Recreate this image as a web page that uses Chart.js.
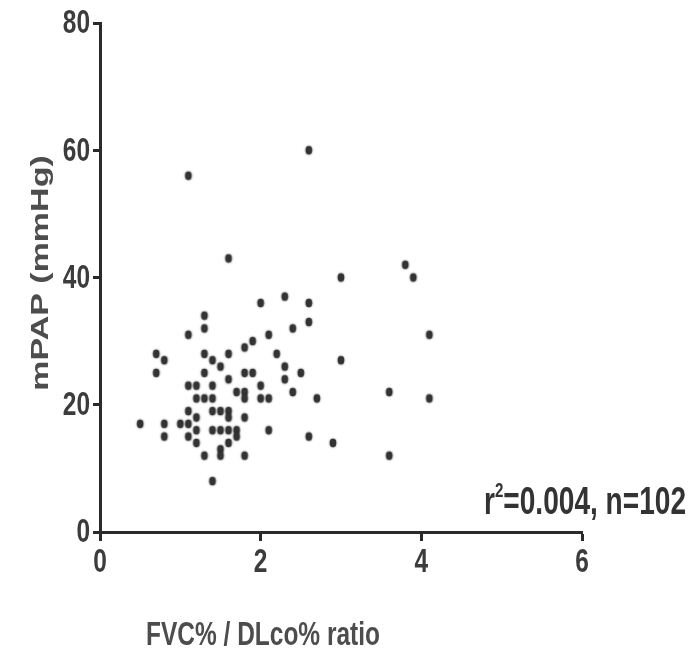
<!DOCTYPE html>
<html><head><meta charset="utf-8">
<script src="https://cdn.jsdelivr.net/npm/chart.js@4"></script>
<style>html,body{margin:0;padding:0;background:#fff}#wrap{width:697px;height:652px}</style>
</head><body><div id="wrap"><canvas id="c" width="697" height="652"></canvas></div>
<script>
// FVC%/DLco% ratio (x) and mPAP in mmHg (y)
const ratioX = [0.5,0.7,0.8,0.7,0.8,0.8,1.0,1.1,1.1,1.1,1.1,1.1,1.1,1.2,1.2,1.2,1.2,1.2,1.3,1.3,
  1.3,1.3,1.3,1.3,1.4,1.4,1.4,1.4,1.4,1.4,1.5,1.5,1.5,1.5,1.5,1.6,1.6,1.6,1.6,1.6,
  1.6,1.6,1.7,1.7,1.7,1.8,1.8,1.8,1.8,1.8,1.8,1.9,1.9,2.0,2.0,2.0,2.1,2.1,2.1,2.2,
  2.3,2.3,2.3,2.4,2.4,2.5,2.6,2.6,2.6,2.6,2.7,2.9,3.0,3.0,3.6,3.6,3.8,3.9,4.1,4.1];
const mpapY = [17,28,27,25,17,15,17,56,31,23,19,17,15,23,21,18,16,14,34,32,
  28,25,21,12,27,23,21,19,16,8,26,19,16,13,12,28,24,19,18,16,
  14,43,22,16,15,29,25,22,21,18,12,30,25,36,23,21,31,21,16,28,
  37,26,24,32,22,25,60,36,33,15,21,14,40,27,22,12,42,40,31,21];
const xTicks = [0,2,4,6];
const yTicks = [0,20,40,60,80];
const xTitle = 'FVC% / DLco% ratio';
const yTitle = 'mPAP (mmHg)';
const statBase = 'r', statSup = '2', statRest = '=0.004, n=102';

const FONT = "'Liberation Sans',Arial,sans-serif";
const AXC = '#2a2a2a';
const SQ = 0.72; // horizontal condensing of all lettering

const points = ratioX.map((x,i)=>({x, y: mpapY[i]}));

// soft, slightly tall dot marker
const dot = document.createElement('canvas');
dot.width = 14; dot.height = 16;
(function(){
  const g = dot.getContext('2d');
  g.fillStyle = '#333';
  g.shadowColor = 'rgba(40,40,40,0.7)';
  g.shadowBlur = 2;
  g.beginPath(); g.ellipse(7, 8, 3.3, 4.2, 0, 0, Math.PI*2); g.fill();
})();

function condText(ctx, txt, x, y, align){
  ctx.save();
  ctx.translate(x, y);
  ctx.scale(SQ, 1);
  ctx.textAlign = align;
  ctx.fillText(txt, 0, 0);
  ctx.restore();
}

const textPlugin = {
  id:'texts',
  afterDraw(chart){
    const ctx = chart.ctx;
    const xs = chart.scales.x, ys = chart.scales.y;
    ctx.save();
    // tick labels
    ctx.fillStyle = '#3c3c3c';
    ctx.font = "bold 34px " + FONT;
    ctx.textBaseline = 'middle';
    yTicks.forEach(v => condText(ctx, String(v), 90, ys.getPixelForValue(v) + 1, 'right'));
    ctx.textBaseline = 'top';
    xTicks.forEach(v => condText(ctx, String(v), xs.getPixelForValue(v), 546, 'center'));
    // x title
    ctx.fillStyle = '#4d4d4d';
    ctx.font = "bold 34px " + FONT;
    ctx.textBaseline = 'middle';
    condText(ctx, xTitle, 263, 636, 'center');
    // y title (rotated; condensing applies across the text height)
    ctx.save();
    ctx.translate(41, 273);
    ctx.rotate(-Math.PI/2);
    ctx.scale(1, SQ);
    ctx.textAlign = 'center';
    ctx.fillText(yTitle, 0, 0);
    ctx.restore();
    // stats annotation
    ctx.fillStyle = '#333';
    ctx.textBaseline = 'alphabetic';
    ctx.font = "bold 39px " + FONT;
    const wr = ctx.measureText(statBase).width * SQ;
    const wt = ctx.measureText(statRest).width * SQ;
    ctx.font = "bold 21px " + FONT;
    const ws = ctx.measureText(statSup).width * SQ;
    const x0 = 686 - (wr + ws + wt);
    const base = 514;
    ctx.font = "bold 39px " + FONT;
    condText(ctx, statBase, x0, base, 'left');
    ctx.font = "bold 21px " + FONT;
    condText(ctx, statSup, x0 + wr, base - 17, 'left');
    ctx.font = "bold 39px " + FONT;
    condText(ctx, statRest, x0 + wr + ws, base, 'left');
    ctx.restore();
  }
};

new Chart(document.getElementById('c'), {
  type:'scatter',
  data:{datasets:[{data:points, pointStyle:dot, pointRadius:4, pointHoverRadius:4,
    backgroundColor:'#333', borderColor:'#333'}]},
  options:{
    responsive:false, animation:false, devicePixelRatio:1,
    layout:{padding:{top:23, right:115, left:0, bottom:0}},
    plugins:{legend:{display:false}, tooltip:{enabled:false}},
    scales:{
      x:{type:'linear', min:0, max:6,
        afterBuildTicks(s){ s.ticks = xTicks.map(v=>({value:v})); },
        afterFit(s){ s.height = 120; },
        grid:{drawOnChartArea:false, drawTicks:true, tickLength:9, tickWidth:3, tickColor:AXC},
        border:{display:true, width:3, color:AXC},
        ticks:{display:false}
      },
      y:{type:'linear', min:0, max:80,
        afterBuildTicks(s){ s.ticks = yTicks.map(v=>({value:v})); },
        afterFit(s){ s.width = 100; },
        grid:{drawOnChartArea:false, drawTicks:true, tickLength:7, tickWidth:3, tickColor:AXC},
        border:{display:true, width:3, color:AXC},
        ticks:{display:false}
      }
    }
  },
  plugins:[textPlugin]
});
</script></body></html>
